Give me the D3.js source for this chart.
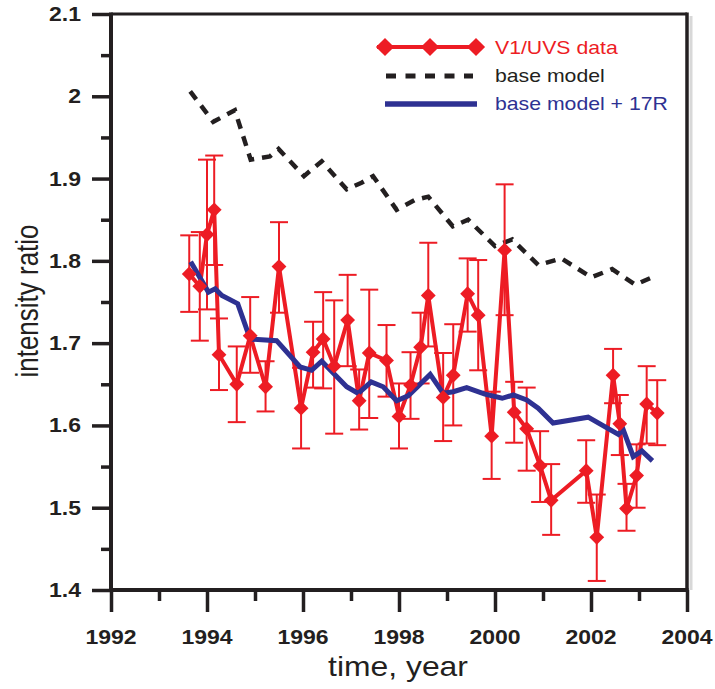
<!DOCTYPE html>
<html><head><meta charset="utf-8">
<script src="https://cdn.jsdelivr.net/npm/d3@7"></script>
<style>body{margin:0;background:#fff}svg{display:block}</style>
</head><body><svg id="c" width="715" height="689"></svg>
<script>
// ---- data ----
const dataYears = [1993.63,1993.85,1994.00,1994.15,1994.25,1994.62,1994.90,1995.22,1995.50,1995.96,
  1996.21,1996.42,1996.65,1996.93,1997.17,1997.38,1997.74,1998.00,1998.24,1998.45,1998.61,1998.92,
  1999.13,1999.43,1999.65,1999.93,2000.20,2000.40,2000.66,2000.94,2001.17,2001.90,2002.12,2002.46,
  2002.60,2002.74,2002.95,2003.16,2003.38];
const dataValues = [1.784,1.769,1.832,1.862,1.686,1.650,1.709,1.647,1.793,1.621,
  1.689,1.705,1.672,1.728,1.630,1.688,1.679,1.611,1.649,1.695,1.758,1.634,
  1.661,1.760,1.734,1.587,1.813,1.616,1.596,1.551,1.509,1.545,1.464,1.661,
  1.602,1.499,1.539,1.626,1.615];
const dataLow = [1.738,1.703,1.741,1.795,1.643,1.604,1.664,1.617,1.737,1.572,
  1.646,1.645,1.590,1.672,1.595,1.609,1.635,1.572,1.608,1.651,1.696,1.581,
  1.600,1.714,1.667,1.535,1.734,1.579,1.545,1.507,1.467,1.506,1.411,1.627,
  1.564,1.472,1.500,1.578,1.576];
const dataHigh = [1.831,1.835,1.923,1.928,1.730,1.696,1.756,1.678,1.847,1.670,
  1.726,1.762,1.752,1.783,1.668,1.765,1.722,1.651,1.689,1.737,1.822,1.688,
  1.723,1.803,1.801,1.641,1.893,1.653,1.646,1.593,1.553,1.582,1.516,1.693,
  1.637,1.529,1.577,1.672,1.655];

const baseYears = [1993.65,1994.13,1994.58,1994.91,1995.31,1995.49,1996.02,1996.39,1996.91,1997.22,
  1997.46,1997.95,1998.33,1998.61,1999.12,1999.44,2000.00,2000.36,2000.90,2001.38,2002.01,2002.44,
  2002.92,2003.31];
const baseValues = [2.006,1.969,1.983,1.923,1.927,1.936,1.903,1.921,1.887,1.895,
  1.903,1.862,1.874,1.878,1.842,1.850,1.818,1.826,1.795,1.803,1.780,1.790,
  1.771,1.781];

const modYears = [1993.66,1994.03,1994.17,1994.31,1994.64,1994.90,1995.45,1995.94,1996.18,1996.39,
  1996.91,1997.15,1997.42,1997.67,1997.95,1998.19,1998.65,1998.92,1999.13,1999.41,1999.79,2000.15,
  2000.38,2000.66,2000.90,2001.21,2001.94,2002.57,2002.67,2002.88,2003.06,2003.28];
const modValues = [1.799,1.762,1.766,1.758,1.748,1.705,1.703,1.671,1.667,1.678,
  1.647,1.639,1.653,1.647,1.630,1.636,1.662,1.639,1.641,1.646,1.638,1.633,
  1.637,1.631,1.621,1.603,1.610,1.589,1.595,1.562,1.569,1.557];

const xTicks = [1992,1994,1996,1998,2000,2002,2004];
const xMinor = [1993,1995,1997,1999,2001,2003];
const yTicks = [1.4,1.5,1.6,1.7,1.8,1.9,2.0,2.1];
const yTickLabels = ["1.4","1.5","1.6","1.7","1.8","1.9","2","2.1"];
const yMinor = [1.45,1.55,1.65,1.75,1.85,1.95,2.05];
const legendLabels = ["V1/UVS data","base model","base model + 17R"];

// ---- drawing ----
const RED = '#ed1c24', BLUE = '#2e3192', BLACK = '#231f20';
const FONT = '"Liberation Sans", Arial, Helvetica, sans-serif';
const SX = 1.18;
const svg = d3.select('#c');
const x = d3.scaleLinear().domain([1992, 2004]).range([111, 687]);
const y = d3.scaleLinear().domain([1.4, 2.1]).range([590, 14]);

function stext(px, py, str, size, opts = {}) {
  return svg.append('text')
    .attr('transform', `translate(${px},${py}) scale(${opts.sx || SX},1)`)
    .attr('text-anchor', opts.anchor || 'start')
    .attr('font-family', FONT)
    .attr('font-size', size)
    .attr('font-weight', opts.bold ? 'bold' : 'normal')
    .attr('fill', opts.fill || BLACK)
    .text(str);
}

// shadow at right
svg.append('line').attr('x1', x(2004) + 4).attr('x2', x(2004) + 4)
  .attr('y1', y(2.1) + 2).attr('y2', y(1.4)).attr('stroke', '#d8d8d8').attr('stroke-width', 3);

// frame
svg.append('line').attr('x1', x(1992)).attr('x2', x(2004)).attr('y1', y(2.1)).attr('y2', y(2.1))
  .attr('stroke', BLACK).attr('stroke-width', 3);
svg.append('line').attr('x1', x(2004)).attr('x2', x(2004)).attr('y1', y(2.1) - 1.5).attr('y2', y(1.4))
  .attr('stroke', BLACK).attr('stroke-width', 3.5);

// axes
function styleAxis(g) {
  g.select('.domain').remove();
  g.selectAll('line').attr('stroke', BLACK).attr('stroke-width', 3.5);
  g.selectAll('text').remove();
}
svg.append('g').attr('transform', `translate(0,${y(1.4)})`)
  .call(d3.axisBottom(x).tickValues(xTicks).tickSize(22).tickFormat('')).call(styleAxis);
svg.append('g').attr('transform', `translate(0,${y(1.4)})`)
  .call(d3.axisBottom(x).tickValues(xMinor).tickSize(11).tickFormat('')).call(styleAxis);
svg.append('g').attr('transform', `translate(${x(1992)},0)`)
  .call(d3.axisLeft(y).tickValues(yTicks).tickSize(19).tickFormat('')).call(styleAxis);
svg.append('g').attr('transform', `translate(${x(1992)},0)`)
  .call(d3.axisLeft(y).tickValues(yMinor).tickSize(10).tickFormat('')).call(styleAxis);
// axis lines
svg.append('line').attr('x1', x(1992)).attr('x2', x(1992)).attr('y1', y(2.1) - 1.5).attr('y2', y(1.4) + 2)
  .attr('stroke', BLACK).attr('stroke-width', 4);
svg.append('line').attr('x1', x(1992) - 2).attr('x2', x(2004) + 1.5).attr('y1', y(1.4)).attr('y2', y(1.4))
  .attr('stroke', BLACK).attr('stroke-width', 4);

// tick labels
xTicks.forEach(t => stext(x(t), 644, String(t), 19.5, {anchor: 'middle', bold: true}));
yTicks.forEach((t, i) => stext(81, y(t) + 7, yTickLabels[i], 19.5, {anchor: 'end', bold: true}));

// axis titles
stext(398, 676, 'time, year', 27, {anchor: 'middle'});
svg.append('text')
  .attr('transform', `translate(38,301) rotate(-90) scale(1,${SX})`)
  .attr('text-anchor', 'middle').attr('font-family', FONT).attr('font-size', 26)
  .attr('fill', BLACK).text('intensity ratio');

// base model (dashed)
const line = d3.line().x(d => x(d[0])).y(d => y(d[1]));
svg.append('path').datum(baseYears.map((v, i) => [v, baseValues[i]]))
  .attr('d', line).attr('fill', 'none').attr('stroke', BLACK)
  .attr('stroke-width', 4.5).attr('stroke-dasharray', '10,8');

// error bars
const eb = svg.append('g').attr('stroke', RED).attr('stroke-width', 2).attr('fill', 'none');
dataYears.forEach((yr, i) => {
  const cx = x(yr);
  eb.append('line').attr('x1', cx).attr('x2', cx).attr('y1', y(dataLow[i])).attr('y2', y(dataHigh[i]));
  eb.append('line').attr('x1', cx - 9).attr('x2', cx + 9).attr('y1', y(dataLow[i])).attr('y2', y(dataLow[i]));
  eb.append('line').attr('x1', cx - 9).attr('x2', cx + 9).attr('y1', y(dataHigh[i])).attr('y2', y(dataHigh[i]));
});

// data line
svg.append('path').datum(dataYears.map((v, i) => [v, dataValues[i]]))
  .attr('d', line).attr('fill', 'none').attr('stroke', RED).attr('stroke-width', 4)
  .attr('stroke-linejoin', 'miter').attr('stroke-miterlimit', 4);

// model + 17R
svg.append('path').datum(modYears.map((v, i) => [v, modValues[i]]))
  .attr('d', line).attr('fill', 'none').attr('stroke', BLUE).attr('stroke-width', 5);

// diamonds
const diamond = d3.symbol().type(d3.symbolSquare).size(110);
svg.append('g').selectAll('path').data(dataYears).join('path')
  .attr('d', diamond)
  .attr('transform', (d, i) => `translate(${x(d)},${y(dataValues[i])}) rotate(45)`)
  .attr('fill', RED);

// legend
svg.append('line').attr('x1', 377).attr('x2', 483).attr('y1', 47).attr('y2', 47)
  .attr('stroke', RED).attr('stroke-width', 4);
const bigDiamond = d3.symbol().type(d3.symbolSquare).size(165);
[385, 430, 476].forEach(px => svg.append('path').attr('d', bigDiamond)
  .attr('transform', `translate(${px},47) rotate(45)`).attr('fill', RED));
stext(495, 54, legendLabels[0], 18, {fill: RED});
svg.append('line').attr('x1', 386).attr('x2', 473).attr('y1', 76).attr('y2', 76)
  .attr('stroke', BLACK).attr('stroke-width', 5).attr('stroke-dasharray', '10,9.5');
stext(495, 82, legendLabels[1], 18, {fill: BLACK});
svg.append('line').attr('x1', 385).attr('x2', 477).attr('y1', 104).attr('y2', 104)
  .attr('stroke', BLUE).attr('stroke-width', 5.5);
stext(495, 110, legendLabels[2], 18, {fill: BLUE});
</script>
</body></html>
